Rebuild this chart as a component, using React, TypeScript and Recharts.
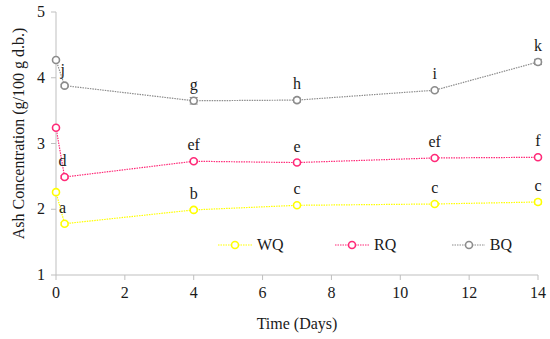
import React from "react";
import { LineChart, Line, XAxis, YAxis, LabelList, ErrorBar } from "recharts";

const times = [0, 0.25, 4, 7, 11, 14];
const wqValues = [2.26, 1.78, 1.99, 2.06, 2.08, 2.11];
const rqValues = [3.24, 2.49, 2.73, 2.71, 2.78, 2.79];
const bqValues = [4.27, 3.88, 3.65, 3.66, 3.81, 4.24];
const wqErr = [0.02, 0.02, 0.02, 0.02, 0.02, 0.03];
const rqErr = [0.02, 0.02, 0.02, 0.02, 0.02, 0.02];
const bqErr = [0.02, 0.02, 0.05, 0.03, 0.02, 0.04];
const wqLetters = ["", "a", "b", "c", "c", "c"];
const rqLetters = ["", "d", "ef", "e", "ef", "f"];
const bqLetters = ["", "j", "g", "h", "i", "k"];
const xTicks = [0, 2, 4, 6, 8, 10, 12, 14];
const yTicks = [1, 2, 3, 4, 5];

const data = times.map((t, i) => ({
  t,
  WQ: wqValues[i],
  RQ: rqValues[i],
  BQ: bqValues[i],
  wqErr: wqErr[i],
  rqErr: rqErr[i],
  bqErr: bqErr[i],
  wqL: wqLetters[i],
  rqL: rqLetters[i],
  bqL: bqLetters[i],
}));

const FONT = "Liberation Serif, DejaVu Serif, serif";
const AXIS = "#bfbfbf";
const TXT = "#1a1a1a";

const series = [
  { key: "WQ", color: "#ffff00", err: "wqErr", label: "wqL" },
  { key: "RQ", color: "#ff2a78", err: "rqErr", label: "rqL" },
  { key: "BQ", color: "#8c8c8c", err: "bqErr", label: "bqL" },
];

const LetterLabel = (props: any) => {
  const { x, y, value, index } = props;
  if (!value) return null;
  const dx = index === 1 ? -2 : 0;
  return (
    <text x={x + dx} y={y - 11} textAnchor="middle" style={{ fontFamily: FONT, fontSize: 16 }} fill={TXT}>
      {value}
    </text>
  );
};

const XTick = (props: any) => {
  const { x, y, payload } = props;
  return (
    <text x={x} y={y + 14} textAnchor="middle" style={{ fontFamily: FONT, fontSize: 16 }} fill={TXT}>
      {payload.value}
    </text>
  );
};

const YTick = (props: any) => {
  const { x, y, payload } = props;
  return (
    <text x={x} y={y + 5} textAnchor="end" style={{ fontFamily: FONT, fontSize: 16 }} fill={TXT}>
      {payload.value}
    </text>
  );
};

const LegendBox = () => (
  <div
    style={{
      position: "absolute",
      left: 218,
      top: 236,
      display: "flex",
      fontFamily: FONT,
      fontSize: 16,
      color: TXT,
      lineHeight: "18px",
    }}
  >
    {series.map((s, i) => (
      <div key={s.key} style={{ display: "flex", alignItems: "center", width: i < 2 ? 117 : 60 }}>
        <svg width={34} height={12} style={{ marginRight: 5 }}>
          <line x1={0} y1={6} x2={34} y2={6} stroke={s.color} strokeWidth={1.2} strokeDasharray="1.5 1" />
          <circle cx={17} cy={6} r={3.5} fill="#fff" stroke={s.color} strokeWidth={1.6} />
        </svg>
        <span>{s.key}</span>
      </div>
    ))}
  </div>
);

export default function App() {
  return (
    <div style={{ position: "absolute", left: 0, top: 0, width: 550, height: 339, background: "#fff" }}>
      <LineChart width={550} height={339} data={data} margin={{ top: 12, right: 12, bottom: 0, left: 10 }}>
        <XAxis
          dataKey="t"
          type="number"
          domain={[0, 14]}
          ticks={xTicks}
          stroke={AXIS}
          tickSize={5}
          tickMargin={4}
          height={64}
          tick={<XTick />}
          label={{ value: "Time (Days)", position: "insideBottom", offset: 10, fill: TXT, style: { fontFamily: FONT, fontSize: 16 } }}
        />
        <YAxis
          type="number"
          domain={[1, 5]}
          ticks={yTicks}
          stroke={AXIS}
          tickSize={5}
          tickMargin={6}
          width={46}
          tick={<YTick />}
          label={{
            value: "Ash Concentration (g/100 g d.b.)",
            angle: -90,
            position: "insideLeft",
            offset: 8,
            dy: -10,
            fill: TXT,
            style: { textAnchor: "middle", fontFamily: FONT, fontSize: 16 },
          }}
        />
        {series.map((s) => (
          <Line
            key={s.key}
            dataKey={s.key}
            stroke={s.color}
            strokeWidth={1.2}
            strokeDasharray="1.5 1"
            isAnimationActive={false}
            dot={{ r: 3.5, fill: "#fff", stroke: s.color, strokeWidth: 1.6, strokeDasharray: "" }}
          >
            <ErrorBar dataKey={s.err} width={4} stroke={s.color} strokeWidth={1} direction="y" />
            <LabelList dataKey={s.label} content={<LetterLabel />} />
          </Line>
        ))}
      </LineChart>
      <LegendBox />
    </div>
  );
}
